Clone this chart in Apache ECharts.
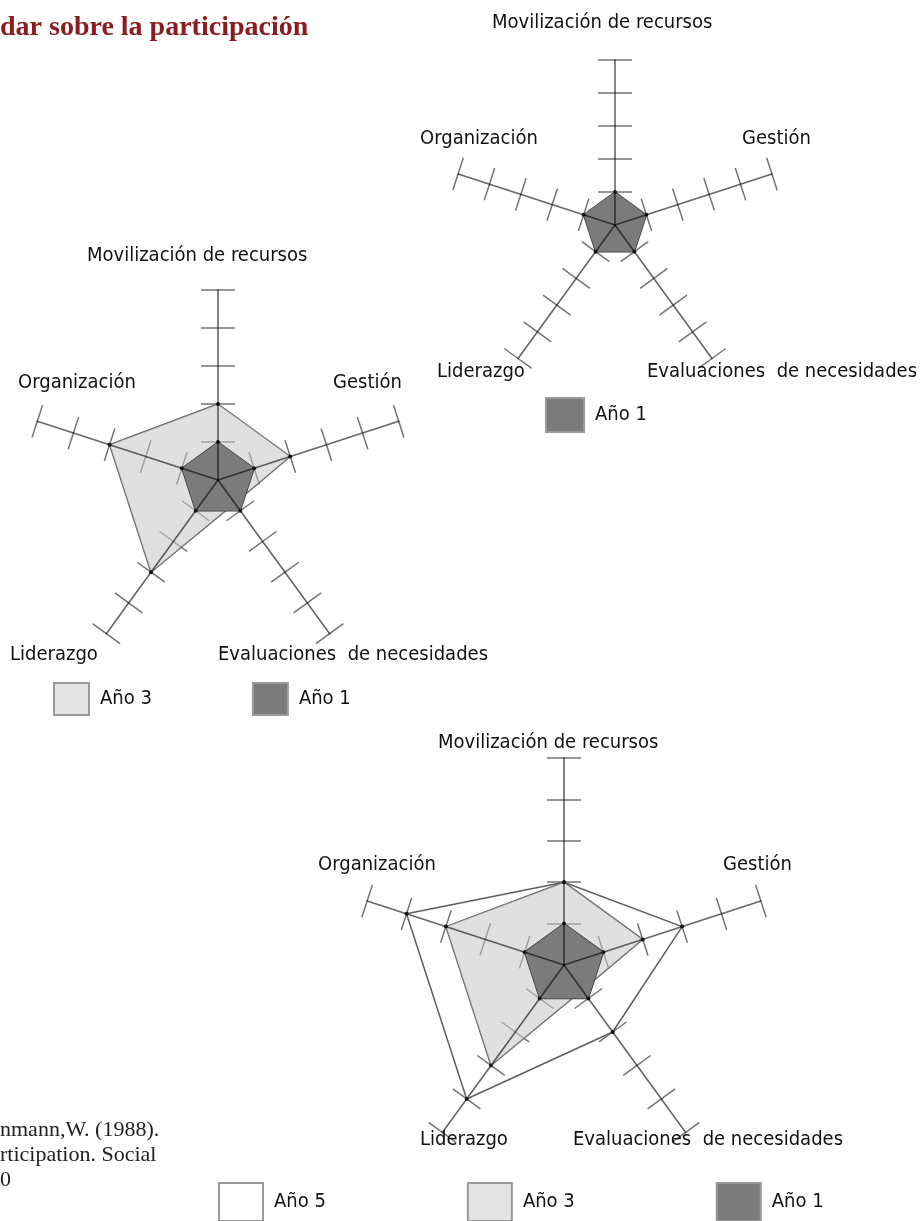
<!DOCTYPE html>
<html>
<head>
<meta charset="utf-8">
<script src="https://cdn.jsdelivr.net/npm/echarts@6/dist/echarts.min.js"></script>
<style>
  html, body {margin: 0; padding: 0; background: #fff;}
  #chart {width: 923px; height: 1221px;}
</style>
</head>
<body>
<div id="chart"></div>
<script>
// ejes en orden antihorario desde arriba (asi los coloca el radar de echarts)
const indicadores = ["Movilización de recursos", "Organización", "Liderazgo", "Evaluaciones  de necesidades", "Gestión"];
const escalaMax = 5;
const anio1 = [1, 1, 1, 1, 1];
const anio3 = [2, 3, 3, 0.75, 2];
const anio5 = [2, 4, 4, 2, 3];

const FONT = "'Liberation Sans Narrow', 'DejaVu Sans Condensed', 'Liberation Sans', sans-serif";
const SERIF = "'Liberation Serif', 'DejaVu Serif', serif";

const estilos = {
  "Año 1": {area: "#7b7b7b", opacity: 1, line: "#3a3a3a", legend: "#7b7b7b"},
  "Año 3": {area: "#c6c6c6", opacity: 0.55, line: "#5e5e5e", legend: "#e3e3e3"},
  "Año 5": {area: null, opacity: 0, line: "#5e5e5e", legend: "#ffffff"},
};

// cada grafico: centro, radio y años que se dibujan
const graficos = [
  {center: [615, 225], radius: 165, anios: ["Año 1"]},
  {center: [218, 480], radius: 190, anios: ["Año 3", "Año 1"]},
  {center: [564, 965], radius: 207, anios: ["Año 5", "Año 3", "Año 1"]},
];
const valores = {"Año 1": anio1, "Año 3": anio3, "Año 5": anio5};

const radars = [];
const series = [];
graficos.forEach((g) => {
  const base = {
    center: g.center,
    radius: g.radius,
    startAngle: 90,
    shape: "polygon",
    splitNumber: 5,
    indicator: indicadores.map((n) => ({name: n, min: 0, max: escalaMax})),
    axisName: {show: false},
    splitLine: {show: false},
    splitArea: {show: false},
  };
  // marcas hacia los dos lados del eje, por debajo de las areas
  [17, -17].forEach((len) => {
    radars.push(Object.assign({}, base, {
      z: 1,
      axisLine: {show: false},
      axisTick: {show: true, length: len, lineStyle: {color: "rgba(0,0,0,0.55)", width: 1.5}},
    }));
  });
  // lineas de eje encima de todo
  const lineIdx = radars.length;
  radars.push(Object.assign({}, base, {
    z: 6,
    axisLine: {show: true, lineStyle: {color: "rgba(0,0,0,0.6)", width: 1.6}},
    axisTick: {show: false},
  }));
  g.anios.forEach((anio, k) => {
    const st = estilos[anio];
    series.push({
      type: "radar",
      name: anio,
      radarIndex: lineIdx,
      z: 2 + k,
      silent: true,
      symbol: "circle",
      symbolSize: 4,
      itemStyle: {color: "#1e1e1e"},
      lineStyle: {color: st.line, width: 1.5},
      areaStyle: st.area ? {color: st.area, opacity: st.opacity} : {opacity: 0},
      data: [{value: valores[anio], name: anio}],
    });
  });
});

const leyenda = (anios, left, top, size, gap) => ({
  left: left,
  top: top,
  padding: 0,
  orient: "horizontal",
  selectedMode: false,
  itemWidth: size[0],
  itemHeight: size[1],
  itemGap: gap,
  textStyle: {fontFamily: FONT, fontSize: 20, color: "#111", padding: [0, 0, 0, 6]},
  data: anios.map((a) => ({
    name: a,
    icon: "rect",
    itemStyle: {color: estilos[a].legend, borderColor: "#9a9a9a", borderWidth: 2},
  })),
});

const etiqueta = (text, x, y) => ({
  type: "text",
  x: x,
  y: y,
  silent: true,
  style: {text: text, font: "20px " + FONT, fill: "#111", align: "left", verticalAlign: "middle"},
});

const nota = (text, y) => ({
  type: "text",
  x: 0,
  y: y,
  silent: true,
  style: {text: text, font: "22px " + SERIF, fill: "#222", align: "left", verticalAlign: "middle"},
});

const chart = echarts.init(document.getElementById("chart"));
chart.setOption({
  animation: false,
  backgroundColor: "#fff",
  radar: radars,
  series: series,
  legend: [
    leyenda(["Año 1"], 545, 397, [38, 34], 10),
    leyenda(["Año 3", "Año 1"], 53, 682, [35, 32], 100),
    leyenda(["Año 5", "Año 3", "Año 1"], 218, 1182, [44, 38], 141),
  ],
  graphic: [
    {type: "text", x: 0, y: 28, silent: true,
      style: {text: "dar sobre la participación", font: "bold 28px " + SERIF, fill: "#8b1d22", align: "left", verticalAlign: "middle"}},
    nota("nmann,W. (1988).", 1130),
    nota("rticipation. Social", 1155),
    nota("0", 1180),

    etiqueta(indicadores[0], 492, 23),
    etiqueta(indicadores[1], 420, 139),
    etiqueta(indicadores[4], 742, 139),
    etiqueta(indicadores[2], 437, 372),
    etiqueta(indicadores[3], 647, 372),

    etiqueta(indicadores[0], 87, 256),
    etiqueta(indicadores[1], 18, 383),
    etiqueta(indicadores[4], 333, 383),
    etiqueta(indicadores[2], 10, 655),
    etiqueta(indicadores[3], 218, 655),

    etiqueta(indicadores[0], 438, 743),
    etiqueta(indicadores[1], 318, 865),
    etiqueta(indicadores[4], 723, 865),
    etiqueta(indicadores[2], 420, 1140),
    etiqueta(indicadores[3], 573, 1140),
  ],
});
</script>
</body>
</html>
